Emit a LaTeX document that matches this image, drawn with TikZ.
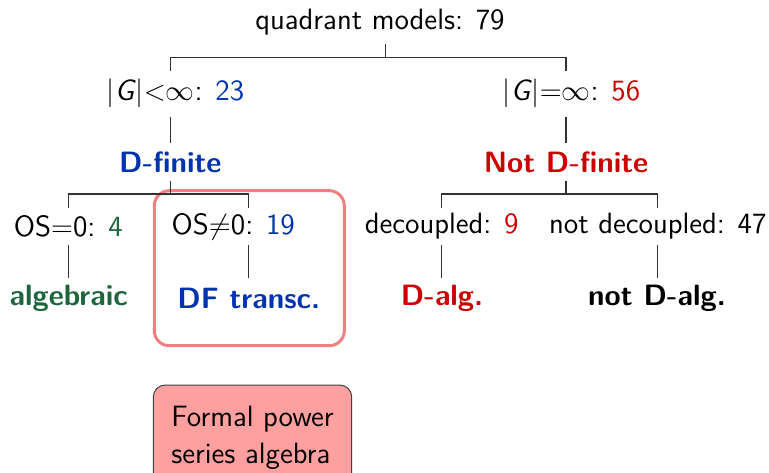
\documentclass[tikz,border=0pt]{standalone}
\usetikzlibrary{calc}
\definecolor{cblue}{RGB}{0,51,173}
\definecolor{cred}{RGB}{204,0,0}
\definecolor{cgreen}{RGB}{30,100,60}
\definecolor{hlpink}{RGB}{240,128,128}
\definecolor{boxfill}{RGB}{255,160,160}
\definecolor{edgec}{RGB}{50,50,50}
\begin{document}
\begin{tikzpicture}[x=0.5pt,y=-0.5pt,
  every node/.style={inner sep=0pt,outer sep=0pt,font=\fontsize{14.7}{17.6}\selectfont\sffamily},
  lvlroot/.style={minimum height=22pt},
  lvlg/.style={minimum height=23pt},
  lvld/.style={minimum height=19pt},
  lvlo/.style={minimum height=18.5pt},
  lvll/.style={minimum height=20pt},
  edge/.style={draw=edgec,line width=0.6pt},
  hlbox/.style={draw=hlpink,line width=1.5pt,rounded corners=7.5pt,minimum width=95pt,minimum height=77.5pt},
  notebox/.style={draw=black!75,fill=boxfill,line width=0.5pt,rounded corners=6pt,minimum width=99.2pt,minimum height=52.5pt,font=\fontsize{14.7}{18.7}\selectfont\sffamily}
]
\useasboundingbox (0,0) rectangle (769,472);
\clip (0,0) rectangle (769,472);

% highlight box
\node[hlbox] (hl) at (249.3,268.2) {};

% nodes
\node[lvlroot] (root) at (380,22) {quadrant models: 79};
\node[lvlg] (gf) at (175.5,93.7) {$|$\textit{G}$|{<}\infty$: \textcolor{cblue}{23}};
\node[lvlg] (gi) at (571.5,93.7) {$|$\textit{G}$|{=}\infty$: \textcolor{cred}{56}};
\node[lvld,text=cblue] (df) at (170.3,162) {\textbf{D-finite}};
\node[lvld,text=cred] (ndf) at (566,162) {\textbf{Not D-finite}};
\node[lvlo] (os0) at (68.3,226.5) {OS${=}$0: \textcolor{cgreen}{4}};
\node[lvlo] (osn) at (233.3,226.5) {OS${\neq}$0: \textcolor{cblue}{19}};
\node[lvlo] (dec) at (441.7,226.5) {decoupled: \textcolor{cred}{9}};
\node[lvlo] (ndec) at (657.8,226.5) {not decoupled: 47};
\node[lvll,text=cgreen] (alg) at (68.7,298.3) {\textbf{algebraic}};
\node[lvll,text=cblue] (dft) at (248.8,298.3) {\textbf{DF transc.}};
\node[lvll,text=cred] (dalg) at (442,298.3) {\textbf{D-alg.}};
\node[lvll] (ndalg) at (657,298.3) {\textbf{not D-alg.}};

% note box (its lower edge runs past the picture's bottom)
\node[notebox] (note) at (252.5,437.5) {\raisebox{2.5pt}{\begin{tabular}{@{}l@{}}Formal power\\series algebra\end{tabular}}};

% edges
\draw[edge] ([xshift=2.85pt]root.south) -- ++(0,13.7) -| (gf.north -| df.north);
\draw[edge] ([xshift=2.85pt]root.south) -- ++(0,13.7) -| (gi.north -| ndf.north);
\draw[edge] (gf.south -| df.north) -- (df.north);
\draw[edge] (gi.south -| ndf.north) -- (ndf.north);
\draw[edge] (df.south) -- ++(0,13) -| (os0.north);
\draw[edge] (df.south) -- ++(0,13) -| (osn.north -| dft.north);
\draw[edge] (ndf.south) -- ++(0,13) -| (dec.north);
\draw[edge] (ndf.south) -- ++(0,13) -| (ndec.north);
\draw[edge] (os0.south) -- (os0.south |- alg.north);
\draw[edge] (osn.south -| dft.north) -- (dft.north);
\draw[edge] (dec.south) -- (dec.south |- dalg.north);
\draw[edge] (ndec.south) -- (ndec.south |- ndalg.north);
\end{tikzpicture}
\end{document}
